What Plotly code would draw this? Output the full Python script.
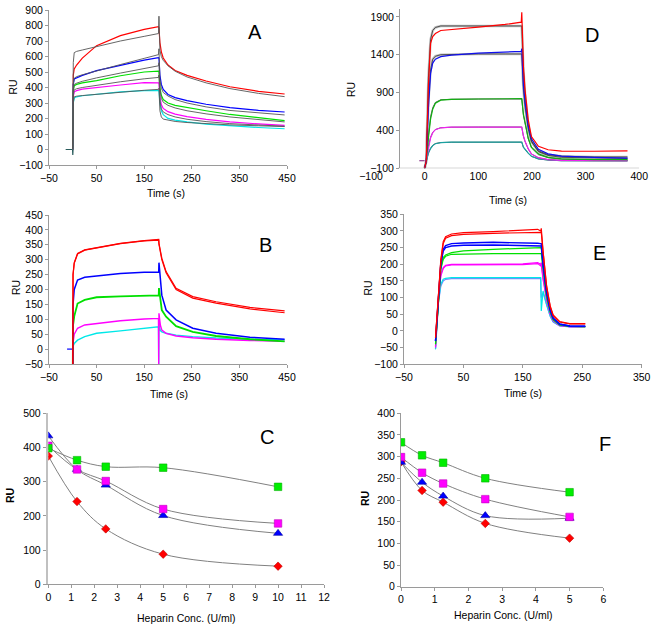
import plotly.graph_objects as go

# ---------------- DATA ----------------
# Panel A (sensorgrams, data + fits)
A_time = [0, 1, 3, 8, 20, 50, 100, 150, 180, 181, 183, 186, 190, 200, 215, 240, 280, 330, 390, 445]
A_red = [0, 480, 520, 545, 590, 670, 735, 775, 792, 785, 690, 630, 590, 545, 510, 478, 442, 405, 375, 358]
A_red_fit = [0, 560, 625, 633, 642, 665, 700, 730, 748, 860, 640, 600, 575, 540, 505, 468, 430, 393, 362, 341]
A_blue = [0, 420, 455, 463, 478, 509, 545, 577, 592, 590, 480, 420, 388, 355, 335, 315, 292, 270, 253, 242]
A_blue_fit = [0, 420, 460, 470, 482, 508, 548, 588, 612, 650, 450, 395, 368, 345, 322, 300, 275, 252, 235, 223]
A_green = [0, 380, 412, 420, 430, 444, 476, 500, 506, 500, 400, 350, 322, 300, 285, 270, 250, 226, 203, 186]
A_green_fit = [0, 380, 420, 428, 440, 462, 493, 522, 540, 560, 390, 330, 305, 285, 268, 250, 230, 210, 192, 178]
A_magenta = [0, 340, 372, 380, 390, 401, 416, 431, 433, 430, 340, 290, 265, 244, 228, 212, 195, 178, 165, 156]
A_magenta_fit = [0, 345, 385, 392, 400, 415, 437, 456, 465, 480, 320, 262, 242, 225, 210, 195, 180, 167, 157, 150]
A_cyan = [0, 300, 332, 340, 347, 358, 372, 380, 384, 380, 300, 250, 225, 201, 190, 178, 164, 152, 142, 134]
A_cyan_fit = [0, 300, 340, 344, 348, 357, 371, 382, 388, 395, 250, 210, 196, 188, 181, 174, 166, 159, 153, 148]
A_base_time = [-15, -0.5, 0, 0.5]
A_base = [0, 0, -35, 0]

# Panel B
B_time = [0, 0.5, 3, 10, 25, 50, 100, 150, 180, 180.5, 181, 184, 187, 196, 217, 252, 301, 372, 445]
B_red_a = [-50, 250, 290, 321, 333, 340, 355, 364, 368, 368, 355, 325, 305, 260, 204, 176, 159, 140, 128]
B_red_b = [-50, 250, 288, 319, 332, 339, 354, 363, 366, 366, 352, 322, 300, 256, 200, 171, 154, 135, 122]
B_blue = [-50, 150, 200, 232, 241, 245, 254, 258, 259, 259, 290, 230, 181, 131, 98, 70, 53, 40, 33]
B_green = [-50, 80, 110, 153, 165, 174, 177, 178, 180, 180, 205, 160, 131, 109, 77, 58, 44, 33, 26]
B_magenta = [-50, 20, 50, 70, 81, 86, 95, 101, 103, -50, 120, 80, 64, 53, 44, 38, 33, 29, 26]
B_cyan = [-50, 10, 19, 30, 42, 53, 61, 70, 75, -50, 80, 62, 58, 53, 47, 42, 37, 33, 31]
B_base_time = [-12, 0]
B_base = [0, 0]

# Panel C
C_conc = [0, 1.25, 2.5, 5, 10]
C_green = [398, 363, 344, 341, 285]
C_magenta = [405, 336, 302, 220, 178]
C_blue = [434, 336, 290, 201, 149]
C_red = [375, 242, 162, 88, 53]

# Panel D
D_time = [0, 3, 7, 11, 15, 20, 30, 50, 100, 150, 180, 181, 184, 187, 193, 199, 212, 230, 255, 316, 378]
D_red = [-100, 0, 1000, 1550, 1640, 1680, 1720, 1735, 1765, 1800, 1830, 1960, 1250, 940, 540, 320, 190, 145, 128, 125, 130]
D_red_fit = [-100, 0, 1100, 1600, 1720, 1760, 1780, 1780, 1780, 1780, 1780, 1780, 1200, 880, 470, 260, 130, 80, 60, 50, 50]
D_blue = [-100, 0, 700, 1150, 1290, 1340, 1375, 1395, 1420, 1435, 1445, 1480, 1000, 780, 460, 290, 150, 90, 60, 45, 35]
D_blue_fit = [-100, 0, 800, 1200, 1340, 1380, 1400, 1405, 1410, 1410, 1410, 1410, 950, 720, 420, 250, 120, 70, 45, 35, 30]
D_green = [-100, 0, 300, 550, 680, 760, 800, 810, 815, 820, 820, 820, 620, 500, 300, 180, 90, 45, 25, 15, 15]
D_green_fit = [-100, 0, 330, 580, 700, 770, 805, 812, 815, 815, 815, 815, 600, 480, 290, 170, 80, 40, 20, 12, 10]
D_magenta = [-100, 0, 180, 300, 370, 410, 435, 443, 445, 445, 445, 445, 330, 260, 160, 90, 40, 15, 5, 0, 0]
D_magenta_fit = [-100, 0, 190, 310, 375, 412, 436, 443, 445, 445, 445, 445, 325, 255, 155, 88, 38, 14, 4, 0, 0]
D_cyan = [-100, 0, 100, 160, 200, 225, 240, 245, 245, 245, 245, 245, 180, 150, 100, 60, 25, 10, 0, 0, 0]
D_cyan_fit = [-100, 0, 105, 165, 203, 227, 240, 244, 245, 245, 245, 245, 178, 148, 98, 58, 24, 9, 0, -2, -2]
D_base_time = [-10, 0]
D_base = [0, 0]

# Panel E
E_time = [3, 8, 12, 16, 20, 30, 50, 100, 150, 175, 180, 181, 184, 190, 196, 201, 212, 229, 255]
E_red_a = [-20, 110, 215, 268, 283, 291, 295, 298, 302, 305, 300, 308, 240, 135, 75, 48, 28, 22, 22]
E_red_b = [-20, 105, 210, 262, 278, 286, 290, 293, 296, 297, 296, 296, 238, 132, 73, 46, 27, 21, 21]
E_blue_a = [-30, 105, 205, 245, 256, 262, 264, 266, 265, 263, 262, 262, 205, 118, 64, 39, 21, 15, 14]
E_blue_b = [-30, 100, 200, 240, 250, 255, 257, 258, 257, 256, 255, 255, 200, 115, 62, 38, 20, 15, 14]
E_green_a = [-40, 100, 190, 220, 228, 235, 240, 245, 249, 250, 250, 250, 192, 106, 58, 35, 18, 14, 13]
E_green_b = [-40, 100, 185, 215, 224, 230, 231, 232, 232, 232, 232, 232, 185, 102, 56, 34, 18, 14, 13]
E_magenta_a = [-45, 95, 170, 190, 197, 200, 200, 201, 201, 205, 200, 205, 160, 95, 52, 32, 17, 13, 13]
E_magenta_b = [-50, 95, 165, 187, 195, 198, 198, 199, 199, 202, 195, 198, 155, 92, 50, 31, 16, 13, 13]
E_cyan = [-55, 90, 140, 155, 158, 160, 160, 160, 161, 162, 160, 60, 120, 80, 45, 28, 16, 13, 13]
E_lightblue = [-55, 85, 135, 150, 155, 157, 157, 157, 158, 158, 157, 100, 115, 78, 44, 27, 15, 12, 12]

# Panel F
F_conc = [0, 0.625, 1.25, 2.5, 5]
F_green = [333, 303, 286, 250, 218]
F_magenta = [299, 263, 238, 202, 161]
F_blue = [287, 241, 209, 164, 158]
F_red = [288, 222, 195, 146, 112]

# ---------------- STYLE ----------------
W, H = 656, 631
OFF = 0  # page margin is removed by the post script below
FONT = "Liberation Sans, Arial, sans-serif"
AX = '#9a9a9a'
RED, BLUE, GREEN, MAG, CYAN = '#ff0000', '#0000ff', '#00e000', '#ff00ff', '#00e8e8'

fig = go.Figure()


def line(x, y, ax, color, width=1.2, shape='linear'):
    fig.add_trace(go.Scatter(x=x, y=y, mode='lines', xaxis='x' + ax, yaxis='y' + ax,
                             line=dict(color=color, width=width, shape=shape),
                             hoverinfo='skip', showlegend=False))


# A
line(A_base_time, A_base, '', '#2a5c5c', 1.2)
line(A_time, A_red, '', RED)
line(A_time, A_blue, '', BLUE)
line(A_time, A_green, '', GREEN)
line(A_time, A_magenta, '', MAG)
line(A_time, A_cyan, '', CYAN)
for fit in [A_red_fit, A_blue_fit, A_green_fit, A_magenta_fit, A_cyan_fit]:
    line(A_time, fit, '', '#555555', 0.9)

# B
line(B_base_time, B_base, '2', BLUE, 1.2)
line(B_time, B_cyan, '2', CYAN, 1.4)
line(B_time, B_magenta, '2', MAG, 1.4)
line(B_time, B_green, '2', GREEN, 1.8)
line(B_time, B_blue, '2', BLUE, 1.5)
line(B_time, B_red_a, '2', RED, 1.2)
line(B_time, B_red_b, '2', RED, 1.2)


# C
def markers(x, y, ax, color, symbol, size, edge):
    fig.add_trace(go.Scatter(x=x, y=y, mode='lines+markers', xaxis='x' + ax, yaxis='y' + ax,
                             line=dict(color='#808080', width=1, shape='spline', smoothing=1.0),
                             marker=dict(color=color, symbol=symbol, size=size,
                                         line=dict(color=edge, width=0.6)),
                             hoverinfo='skip', showlegend=False))


markers(C_conc, C_red, '3', RED, 'diamond', 6.5, '#c00000')
markers(C_conc, C_blue, '3', BLUE, 'triangle-up', 8, '#0000a0')
markers(C_conc, C_magenta, '3', MAG, 'square', 7.5, '#c000c0')
markers(C_conc, C_green, '3', '#00ee00', 'square', 7.5, '#00b000')

# D
line(D_base_time, D_base, '4', '#7a1a7a', 1.2)
line(D_time, D_red_fit, '4', '#c4c4c4', 2.6)
line(D_time, D_blue_fit, '4', '#c4c4c4', 2.6)
for fit in [D_red_fit, D_blue_fit, D_green_fit, D_magenta_fit, D_cyan_fit]:
    line(D_time, fit, '4', '#303030', 0.8)
line(D_time, D_cyan, '4', '#1aa0a0', 1.2)
line(D_time, D_magenta, '4', '#ee22ee', 1.2)
line(D_time, D_green, '4', '#10b010', 1.2)
line(D_time, D_blue, '4', '#1010ee', 1.2)
line(D_time, D_red, '4', RED, 1.2)

# E
line(E_time, E_lightblue, '5', '#8080ff', 1.2)
line(E_time, E_cyan, '5', CYAN, 1.2)
line(E_time, E_magenta_b, '5', MAG, 1.2)
line(E_time, E_magenta_a, '5', MAG, 1.2)
line(E_time, E_green_b, '5', GREEN, 1.2)
line(E_time, E_green_a, '5', GREEN, 1.2)
line(E_time, E_blue_b, '5', BLUE, 1.4)
line(E_time, E_blue_a, '5', BLUE, 1.4)
line(E_time, E_red_b, '5', RED, 1.2)
line(E_time, E_red_a, '5', RED, 1.2)

# F
markers(F_conc, F_red, '6', RED, 'diamond', 6.5, '#c00000')
markers(F_conc, F_blue, '6', BLUE, 'triangle-up', 8, '#0000a0')
markers(F_conc, F_magenta, '6', MAG, 'square', 7.5, '#c000c0')
markers(F_conc, F_green, '6', '#00ee00', 'square', 7.5, '#00b000')


# ---------------- AXES ----------------
def fx(px):
    return (px - OFF) / W


def fy(py):
    return (H - (py - OFF)) / H


def xpx(a, b):
    return [fx(a), fx(b)]


def ypx(top, bottom):
    return [fy(bottom), fy(top)]


def axis(**kw):
    d = dict(showline=True, linecolor=AX, linewidth=1, ticks='outside', ticklen=3,
             tickcolor=AX, showgrid=False, zeroline=False, automargin=False,
             tickfont=dict(size=10.5, color='black', family=FONT))
    d.update(kw)
    return d


layout = dict(
    width=W, height=H, margin=dict(l=0, r=0, t=0, b=0, pad=0, autoexpand=False),
    paper_bgcolor='white', plot_bgcolor='white', showlegend=False,
    font=dict(family=FONT, color='black'),
    xaxis=axis(domain=xpx(49, 287), range=[-50, 450], tick0=-50, dtick=100, anchor='y'),
    yaxis=axis(domain=ypx(10, 165), range=[-100, 900], dtick=100, anchor='x'),
    xaxis2=axis(domain=xpx(49, 287), range=[-50, 450], tick0=-50, dtick=100, anchor='y2'),
    yaxis2=axis(domain=ypx(215, 364), range=[-50, 450], dtick=50, anchor='x2'),
    xaxis3=axis(domain=xpx(48.3, 324), range=[0, 12], dtick=1, anchor='y3'),
    yaxis3=axis(domain=ypx(413.3, 584.3), range=[0, 500], dtick=100, anchor='x3',
                linecolor='#c0c0c0', linewidth=2.5),
    xaxis4=axis(domain=xpx(371, 639.3), range=[-100, 400], tick0=-100, dtick=100,
                anchor='y4', showline=False, ticks=''),
    yaxis4=axis(domain=ypx(9.3, 168.3), range=[-100, 2000], tick0=-100, dtick=500,
                anchor='free', position=fx(399)),
    xaxis5=axis(domain=xpx(404, 641.7), range=[-50, 350], tick0=-50, dtick=100, anchor='y5'),
    yaxis5=axis(domain=ypx(214.3, 364.3), range=[-100, 350], dtick=50, anchor='x5'),
    xaxis6=axis(domain=xpx(401, 603.3), range=[0, 6], dtick=1, anchor='y6'),
    yaxis6=axis(domain=ypx(413.3, 586.7), range=[0, 400], dtick=50, anchor='x6'),
)
fig.update_layout(**layout)

# D x-axis line starts where the y-axis crosses
fig.add_shape(type='line', xref='x4', yref='y4', x0=-50, x1=400, y0=-100, y1=-100,
              line=dict(color=AX, width=1))


# ---------------- TEXT ----------------
def ann(text, px, py, size=10.5, angle=0, bold=False):
    t = f"<b>{text}</b>" if bold else text
    fig.add_annotation(text=t, x=fx(px), y=fy(py), xref='paper', yref='paper',
                       showarrow=False, textangle=angle, xanchor='center', yanchor='middle',
                       font=dict(size=size, family=FONT, color='black'))


for letter, px, py in [('A', 255, 32), ('D', 592, 35), ('B', 265, 245),
                       ('E', 599, 253), ('C', 267, 437), ('F', 605, 444)]:
    ann(letter, px, py, size=20)

ann('Time (s)', 166, 193)
ann('RU', 13.3, 87.3, angle=-90)
ann('Time (s)', 169.3, 394.3)
ann('RU', 16.7, 287.3, angle=-90)
ann('Time (s)', 508.3, 200)
ann('RU', 351.7, 89.3, angle=-90)
ann('Time (s)', 523.3, 393.3)
ann('RU', 368.3, 288.3, angle=-90)
ann('Heparin Conc. (U/ml)', 186.7, 618.3)
ann('RU', 9.3, 495.7, angle=-90, bold=True)
ann('Heparin Conc. (U/ml)', 503.3, 615)
ann('RU', 365, 499, angle=-90, bold=True)

fig.write_html("out.html",
               config={'displayModeBar': False, 'staticPlot': True},
               post_script="document.body.style.margin='0px';"
                           "document.body.style.overflow='hidden';")
